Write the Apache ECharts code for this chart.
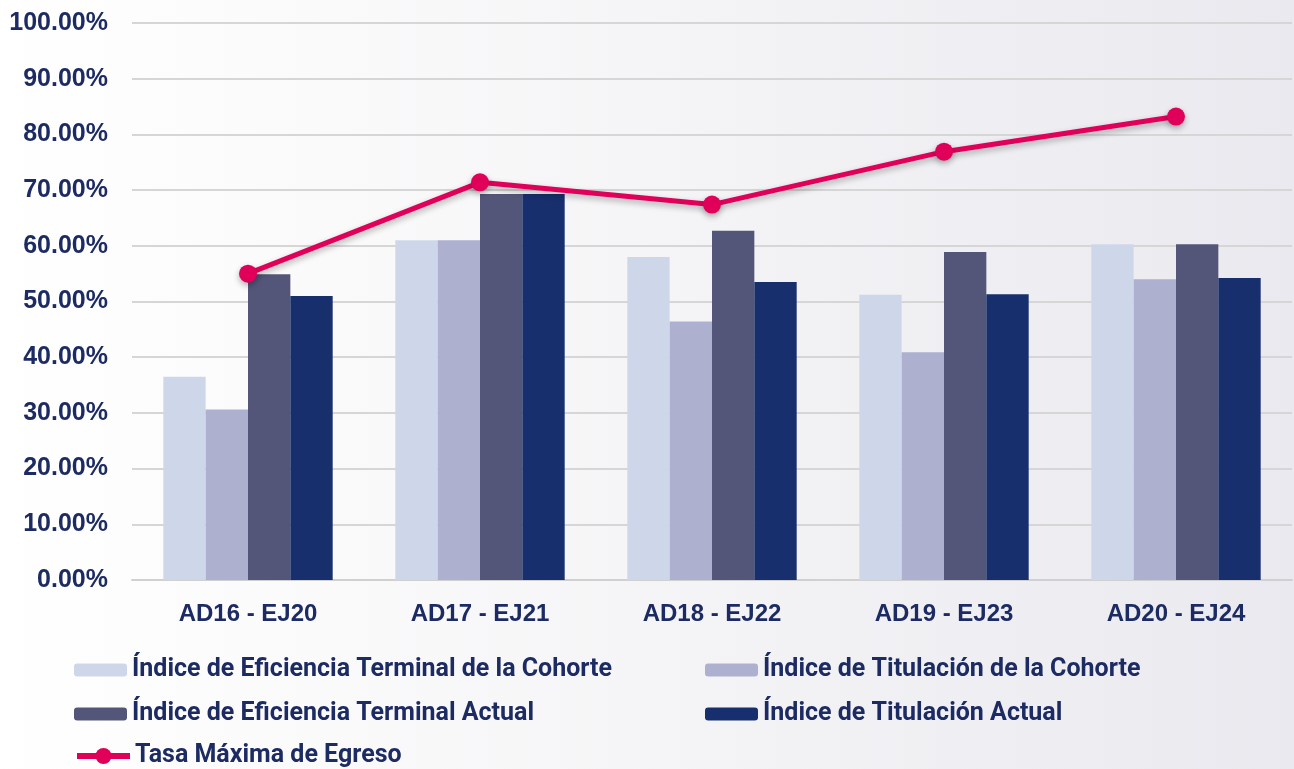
<!DOCTYPE html>
<html><head><meta charset="utf-8">
<script src="https://cdn.jsdelivr.net/npm/echarts@6/dist/echarts.min.js"></script>
<style>html,body{margin:0;padding:0;}#c{width:1294px;height:769px;}</style>
</head><body><div id="c"></div>
<script>
const categories = ['AD16 - EJ20','AD17 - EJ21','AD18 - EJ22','AD19 - EJ23','AD20 - EJ24'];
const eficienciaCohorte = [36.5, 61.0, 58.0, 51.2, 60.3];
const titulacionCohorte = [30.6, 61.0, 46.4, 40.9, 54.0];
const eficienciaActual = [54.9, 69.3, 62.7, 58.9, 60.3];
const titulacionActual = [51.0, 69.3, 53.5, 51.3, 54.2];
const tasaMaxima = [55.0, 71.4, 67.4, 76.9, 83.2];
const yTicks = [0,10,20,30,40,50,60,70,80,90,100];

const names = ['Índice de Eficiencia Terminal de la Cohorte','Índice de Titulación de la Cohorte','Índice de Eficiencia Terminal Actual','Índice de Titulación Actual','Tasa Máxima de Egreso'];
const colors = ['#CED7EA','#AEB0D0','#545679','#182F6D','#E0005A'];
const txt = '#1D2B63';
const font = '"Liberation Sans", Arial, sans-serif';
const legendFont = 'Roboto, "Liberation Sans", sans-serif';

const chart = echarts.init(document.getElementById('c'));
function bar(i, data){
  return {name: names[i], type:'bar', data, barGap:'0%', barCategoryGap:'27%',
    itemStyle:{color: colors[i]}};
}
function leg(i, left, cy, h){
  h = h || 13;
  return {left, top: cy - 11, padding:0, itemWidth:53, itemHeight:h, itemTextGap:4,
    data:[{name:names[i], lineStyle:{width:6}}],
    textStyle:{color:txt, fontFamily:legendFont, fontWeight:'bold', fontSize:25, lineHeight:28}};
}
chart.setOption({
  backgroundColor: new echarts.graphic.LinearGradient(0,0,1,0,[{offset:0,color:'#ffffff'},{offset:0.5,color:'#f5f5f7'},{offset:1,color:'#e9e9ef'}]),
  animation:false,
  grid:{left:132, right:2, top:23, bottom:189},
  xAxis:{type:'category', data:categories,
    axisLine:{lineStyle:{color:'#d0d0d0', width:2}}, axisTick:{show:false},
    axisLabel:{color:txt, fontFamily:font, fontWeight:'bold', fontSize:24, margin:22}},
  yAxis:{type:'value', min:0, max:100, interval:10,
    axisLabel:{color:txt, fontFamily:font, fontWeight:'bold', fontSize:25, margin:24,
      formatter:v=>v.toFixed(2)+'%'},
    splitLine:{lineStyle:{color:'#d6d6d6', width:2}}},
  legend:[
    leg(0, 74, 667), leg(2, 74, 711), leg(4, 74, 753, 20),
    leg(1, 705, 667), leg(3, 705, 711)
  ],
  series:[
    bar(0, eficienciaCohorte),
    bar(1, titulacionCohorte),
    bar(2, eficienciaActual),
    bar(3, titulacionActual),
    {name:names[4], type:'line', data:tasaMaxima, symbol:'circle', symbolSize:18, z:5,
     lineStyle:{color:colors[4], width:5, shadowColor:'rgba(0,0,0,0.3)', shadowBlur:6, shadowOffsetY:3},
     itemStyle:{color:colors[4], shadowColor:'rgba(0,0,0,0.3)', shadowBlur:6, shadowOffsetY:3}}
  ]
});
</script></body></html>
